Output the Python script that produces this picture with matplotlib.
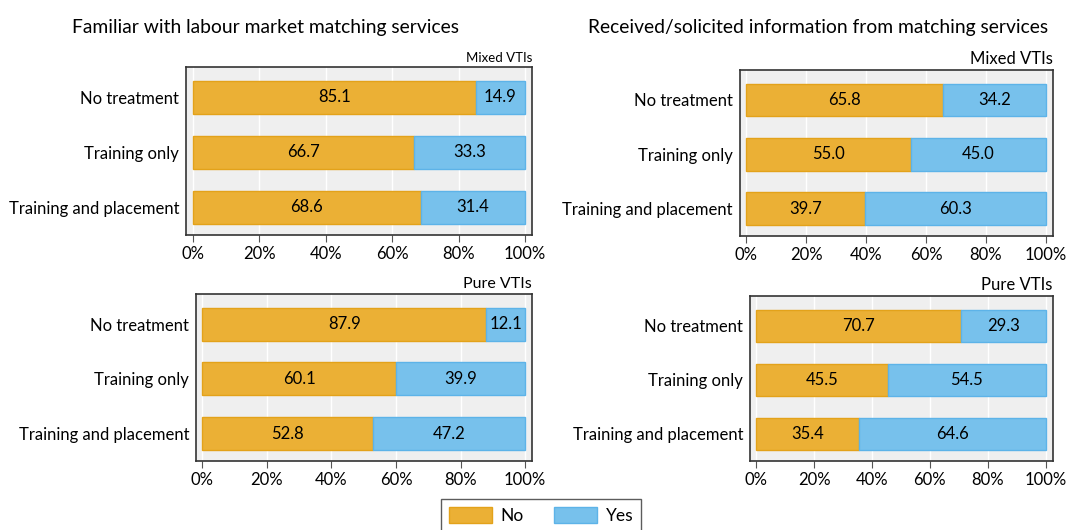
import matplotlib
matplotlib.use("Agg")
import matplotlib.pyplot as plt
from matplotlib.patches import Patch

plt.rcParams['font.family'] = ['Lato', 'DejaVu Sans']

categories = ["No treatment", "Training only", "Training and placement"]
tl_no = [85.1, 66.7, 68.6]
tl_yes = [14.9, 33.3, 31.4]
bl_no = [87.9, 60.1, 52.8]
bl_yes = [12.1, 39.9, 47.2]
tr_no = [65.8, 55.0, 39.7]
tr_yes = [34.2, 45.0, 60.3]
br_no = [70.7, 45.5, 35.4]
br_yes = [29.3, 54.5, 64.6]
xticks = [0, 20, 40, 60, 80, 100]
xticklabels = ["0%", "20%", "40%", "60%", "80%", "100%"]

ORANGE = "#EBB035"
ORANGE_E = "#E3A21A"
BLUE = "#77C1EC"
BLUE_E = "#5DB3E8"
BG = "#EFEFEF"

fig = plt.figure(figsize=(10.66, 5.30), dpi=100)

W, H = 1066, 530
def ax_at(x0, y0, x1, y1):
    return fig.add_axes([x0 / W, 1 - y1 / H, (x1 - x0) / W, (y1 - y0) / H])

panels = [
    (ax_at(186, 67, 532, 235), tl_no, tl_yes, (-2.1, 102.1), "Mixed VTIs", 9.5),
    (ax_at(739.5, 70, 1052.5, 236), tr_no, tr_yes, (-2.2, 102.2), "Mixed VTIs", 12),
    (ax_at(196, 294, 532, 461), bl_no, bl_yes, (-1.95, 102.1), "Pure VTIs", 11.5),
    (ax_at(750, 296, 1052.5, 461), br_no, br_yes, (-2.1, 102.3), "Pure VTIs", 12),
]

ypos = list(range(len(categories)))
for ax, no, yes, xl, sub, subfs in panels:
    ax.set_facecolor(BG)
    ax.set_axisbelow(True)
    ax.grid(axis='x', color='white', linewidth=1.0)
    ax.barh(ypos, no, height=0.6, color=ORANGE, edgecolor=ORANGE_E, linewidth=1)
    ax.barh(ypos, yes, left=no, height=0.6, color=BLUE, edgecolor=BLUE_E, linewidth=1)
    for i in ypos:
        ax.text(no[i] / 2, i, f"{no[i]:.1f}", ha='center', va='center', fontsize=12, color='black')
        ax.text(no[i] + yes[i] / 2, i, f"{yes[i]:.1f}", ha='center', va='center', fontsize=12, color='black')
    ax.set_xlim(*xl)
    ax.set_ylim(2.5, -0.55)
    ax.set_yticks(ypos)
    ax.set_yticklabels(categories, fontsize=12)
    ax.set_xticks(xticks)
    ax.set_xticklabels(xticklabels, fontsize=12)
    ax.tick_params(axis='y', length=0, pad=5)
    ax.tick_params(axis='x', length=5, color='#555555', pad=3)
    for s in ax.spines.values():
        s.set_color('#333333')
        s.set_linewidth(1.2)
    ax.text(1.0, 1.02, sub, transform=ax.transAxes, ha='right', va='bottom', fontsize=subfs)

fig.text(265 / W, 1 - 27 / H, "Familiar with labour market matching services", ha='center', va='center', fontsize=13.9)
fig.text(818 / W, 1 - 27 / H, "Received/solicited information from matching services", ha='center', va='center', fontsize=13.9)

handles = [Patch(facecolor=ORANGE, edgecolor=ORANGE_E, label="No"),
           Patch(facecolor=BLUE, edgecolor=BLUE_E, label="Yes")]
leg = fig.legend(handles=handles, loc='upper center', bbox_to_anchor=(541 / W, 1 - 499 / H), ncol=2,
                 fontsize=12.5, frameon=True, fancybox=False, handlelength=2.5, handleheight=1.1,
                 handletextpad=0.5, columnspacing=1.7, borderpad=0.45, borderaxespad=0)
leg.get_frame().set_edgecolor('#333333')
leg.get_frame().set_linewidth(1.0)

fig.savefig("out.png", dpi=100)
